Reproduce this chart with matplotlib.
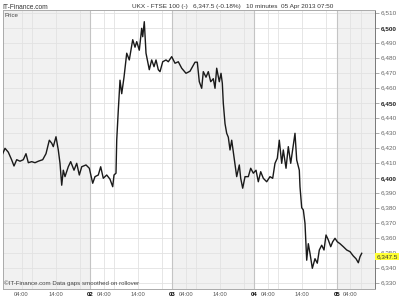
import matplotlib.pyplot as plt

plt.rcParams['font.family'] = ['Liberation Sans', 'DejaVu Sans']

# hours since 01 Apr 2013 00:00, 10-minute closes
hours = [-1.49, -0.82, 0.15, 1.14, 1.81, 2.60, 3.56, 4.53, 5.31, 5.99,
         6.98, 7.94, 8.91, 10.19, 11.15, 12.12, 12.82, 13.28, 14.07, 14.74,
         15.24, 15.74, 16.20, 16.70, 17.66, 18.36, 19.33, 20.12, 20.88, 21.58,
         22.83, 23.80, 24.79, 25.46, 26.42, 27.12, 27.88, 28.88, 29.84, 30.63,
         31.01, 31.59, 31.80, 32.09, 32.26, 32.76, 33.26, 33.93, 34.72, 35.47,
         36.47, 37.14, 37.64, 38.39, 39.09, 39.39, 39.85, 40.35, 41.31, 42.01,
         42.69, 43.27, 43.94, 44.44, 45.23, 46.19, 46.86, 47.85, 48.82, 49.78,
         50.77, 52.03, 53.20, 54.66, 55.33, 55.91, 56.61, 57.08, 57.87, 58.54,
         59.24, 60.00, 60.50, 60.99, 61.75, 62.25, 62.63, 62.92, 63.42, 63.91,
         64.38, 64.88, 65.37, 66.04, 66.83, 67.59, 68.00, 68.58, 69.26, 70.22,
         70.92, 71.68, 72.47, 73.14, 73.84, 74.60, 75.59, 76.55, 77.34, 78.01,
         78.69, 79.27, 79.97, 80.44, 81.23, 81.90, 82.60, 83.36, 83.85, 84.35,
         85.11, 85.31, 85.81, 86.28, 86.77, 87.27, 87.74, 88.23, 88.91, 89.69,
         90.36, 90.95, 91.65, 92.32, 92.91, 93.58, 94.28, 94.86, 95.53, 96.20,
         96.99, 97.96, 98.95, 99.91, 100.88, 101.66, 102.34, 102.83, 103.33]
price = [6416, 6419.6, 6417, 6411.8, 6407.8, 6412, 6411, 6412, 6416, 6410,
         6410.7, 6410, 6411, 6412, 6416, 6425, 6423, 6420.7, 6427.3, 6418.5,
         6409.6, 6395, 6405, 6400.7, 6407.3, 6410.7, 6405, 6409.6, 6401.8, 6407.3,
         6408.5, 6406.3, 6396.3, 6400.7, 6401.8, 6407.3, 6399.6, 6401.8, 6399, 6394,
         6401.8, 6403, 6425, 6438, 6445, 6465, 6456, 6467, 6483, 6478.5,
         6492, 6487, 6490.7, 6485, 6499.6, 6494, 6504, 6483, 6472, 6478.5,
         6474, 6478.5, 6472, 6470.7, 6477.3, 6478.5, 6477.3, 6480.7, 6476.3, 6477.3,
         6473, 6469.6, 6471, 6477, 6477, 6464, 6459.6, 6470.7, 6467, 6470.7,
         6464, 6466, 6459.6, 6473, 6464, 6469.6, 6463, 6449.6, 6436, 6429.6,
         6427, 6418.5, 6425, 6414, 6400.7, 6408.5, 6399.6, 6393, 6400.7, 6400.7,
         6406.3, 6403, 6405, 6397.3, 6404, 6399.6, 6397.3, 6400.7, 6399.6, 6409.6,
         6413, 6425, 6409.6, 6418.5, 6406.3, 6420.7, 6409.6, 6421.8, 6429.6, 6411.8,
         6405, 6394, 6380, 6378.5, 6369.6, 6345, 6356, 6349.6, 6339.6, 6346,
         6343, 6351.8, 6355, 6351.8, 6361.8, 6358.5, 6354, 6357.3, 6359.6, 6357.3,
         6356, 6354, 6351.8, 6350.7, 6347.8, 6346, 6343.3, 6347.3, 6349.6]
last_price = 6347.5

day_labels = ['02', '03', '04', '05']
day_starts = [24, 48, 72, 96]
shaded_days = [(-1.5, 24), (48, 72), (96, 107.2)]
hour_labels = ['04:00', '14:00']
hour_ticks = [4, 14]
extra_grid_hours = [7, 21]
y_ticks = list(range(6330, 6511, 10))
bold_prices = [6400, 6450, 6500]

fig = plt.figure(figsize=(4, 3), dpi=100)
ax = fig.add_axes([2.7 / 400, 1 - 289 / 300, (375 - 2.7) / 400, (289 - 10) / 300])
ax.set_xlim(-1.49, 107.21)
ax.set_ylim(6325.8, 6511.8)

for a, b in shaded_days:
    ax.axvspan(a, b, color='#f1f1f1', lw=0, zorder=0)
for v in y_ticks:
    ax.axhline(v, color='#e2e2e2', lw=0.6, zorder=1)
for d in range(5):
    for h in hour_ticks + extra_grid_hours:
        ax.axvline(d * 24 + h, color='#e2e2e2', lw=0.6, zorder=1)
for s in day_starts:
    ax.axvline(s, color='#c4c4c4', lw=0.8, zorder=1)

ax.plot(hours, price, color='#1a1a1a', lw=1.0, zorder=3)

# x ticks: hours plus bold day labels
xt, xl = [], []
for d in range(5):
    if d > 0:
        xt.append(d * 24)
        xl.append(day_labels[d - 1])
    for h, lab in zip(hour_ticks, hour_labels):
        if d * 24 + h < 107:
            xt.append(d * 24 + h)
            xl.append(lab)
ax.set_xticks(xt)
ax.set_xticklabels(xl)
ax.tick_params(axis='x', length=0, labelsize=4.2, labelcolor='#555555', pad=2)
for t in ax.get_xticklabels():
    if t.get_text() in day_labels:
        t.set_fontweight('bold')
        t.set_color('black')

ax.yaxis.tick_right()
ax.set_yticks(y_ticks)
ax.set_yticklabels([f'{v:,}' for v in y_ticks])
ax.tick_params(axis='y', length=3, width=0.5, color='#888888', labelsize=4.6,
               labelcolor='#666666', pad=1)
for t, v in zip(ax.get_yticklabels(), y_ticks):
    if v in bold_prices:
        t.set_fontweight('bold')
        t.set_color('#222222')

for s in ax.spines.values():
    s.set_color('#aaaaaa')
    s.set_linewidth(0.7)
ax.spines['right'].set_color('#777777')

ax.annotate(f'{last_price:,.1f}', xy=(1.0, last_price),
            xycoords=('axes fraction', 'data'), xytext=(1.0, 0),
            textcoords='offset points', ha='left', va='center', fontsize=4.6,
            color='#333333', zorder=5,
            bbox=dict(boxstyle='square,pad=0.15', fc='#ffff33', ec='none'))

ax.text(0.004, 0.99, 'Price', transform=ax.transAxes, ha='left', va='top',
        fontsize=4.4, color='#444444')
ax.text(0.004, 0.012, '©IT-Finance.com Data gaps smoothed on rollover',
        transform=ax.transAxes, ha='left', va='bottom', fontsize=4.4, color='#444444')

fig.text(0.006, 0.987, 'IT-Finance.com', ha='left', va='top', fontsize=4.8, color='#333333')
fig.text(0.33, 0.987, 'UKX - FTSE 100 (-)   6,347.5 (-0.18%)   10 minutes  05 Apr 2013 07:50',
         ha='left', va='top', fontsize=4.6, color='#333333')

fig.savefig('out.png', dpi=100)
